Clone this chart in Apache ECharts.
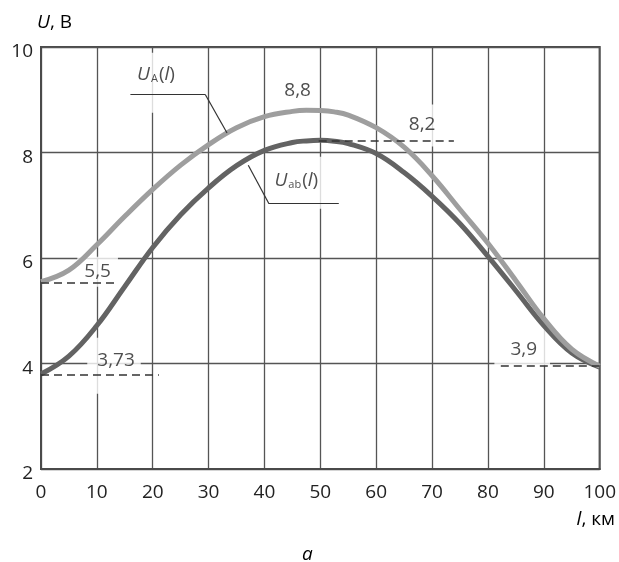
<!DOCTYPE html>
<html><head><meta charset="utf-8">
<script src="https://cdn.jsdelivr.net/npm/echarts@6/dist/echarts.min.js"></script>
<style>html,body{margin:0;padding:0;background:#fff}#c{width:619px;height:562px}</style>
</head><body><div id="c"></div>
<script>
// ---- data ----
const distanceKm = [0,5,10,15,20,25,30,35,40,45,47.5,50,52.5,55,60,65,70,75,80,85,90,95,100];
const voltageUA  = [5.55,5.77,6.25,6.79,7.30,7.76,8.15,8.47,8.68,8.78,8.80,8.795,8.77,8.71,8.47,8.10,7.56,6.92,6.28,5.57,4.85,4.27,3.95];
const voltageUab = [3.80,4.14,4.72,5.46,6.20,6.82,7.33,7.75,8.04,8.19,8.22,8.23,8.215,8.17,7.98,7.62,7.17,6.65,6.03,5.38,4.72,4.20,3.93];
// reference (dashed) levels: [value, fromKm, toKm]
const refLevels = [[5.54,0,13.5],[3.79,0,21.1],[8.22,49.7,73.9],[3.95,82.3,100]];
const refLabels = ['5,5','3,73','8,2','3,9','8,8'];
const seriesNames = ['U_A(l)','U_ab(l)'];

// ---- annotation layout (positions in data units) ----
const leaderA = [[16.0,9.10],[29.4,9.10],[33.3,8.37]];
const leaderAb = [[53.3,7.03],[40.8,7.03],[37.1,7.76]];
const annBoxes = [
  {text:'{i|U}{s|A}{n|(}{i|l}{n|)}', at:[16.03,9.88], pad:[11,24,27,7]},
  {text:'{i|U}{s|ab}{n|(}{i|l}{n|)}', at:[40.44,7.91], pad:[13,25,17,8]},
  {text:refLabels[0], at:[6.59,6.015], pad:[4,7,4,7]},
  {text:refLabels[1], at:[8.37,4.48], pad:[12,6,22,10]},
  {text:refLabels[2], at:[64.85,8.90], pad:[9,8,11,6]},
  {text:refLabels[3], at:[81.24,4.764], pad:[16,13,5,16]},
  {text:refLabels[4], at:[43.1,9.54], pad:[9,3,2,3]}
];

const FONT = 'Open Sans';
const FS = 19;
const chart = echarts.init(document.getElementById('c'), null, {renderer:'canvas'});
const rich = {
  i:{fontFamily:FONT,fontSize:FS,fontStyle:'italic',color:'#222',lineHeight:22},
  n:{fontFamily:FONT,fontSize:FS,color:'#222',lineHeight:22},
  s:{fontFamily:FONT,fontSize:11,color:'#222',lineHeight:22,padding:[9,1,0,1]}
};
const dash = (v,a,b)=>[{coord:[a,v]},{coord:[b,v]}];
const seg = (p,q)=>[{coord:p},{coord:q}];

chart.setOption({
  animation:false,
  backgroundColor:'#fff',
  grid:{left:41,right:17,top:47,bottom:93,show:true,borderColor:'#4a4a4a',borderWidth:2},
  xAxis:{type:'value',min:0,max:100,interval:10,
    axisLine:{show:true,lineStyle:{color:'#4a4a4a',width:2}},axisTick:{show:false},
    splitLine:{show:true,lineStyle:{color:'#555',width:1.3}},
    axisLabel:{fontFamily:FONT,fontSize:FS,color:'#222',margin:14,lineHeight:20}},
  yAxis:{type:'value',min:2,max:10,interval:2,
    axisLine:{show:true,lineStyle:{color:'#4a4a4a',width:2}},axisTick:{show:false},
    splitLine:{show:true,lineStyle:{color:'#555',width:1.3}},
    axisLabel:{fontFamily:FONT,fontSize:FS,color:'#222',margin:8,verticalAlign:'top',lineHeight:10}},
  graphic:[
    {type:'text',left:37,top:13,style:{text:'{i|U}{n|, В}',rich:rich}},
    {type:'text',right:4,top:510,style:{text:'{i|l}{n|, км}',rich:rich}},
    {type:'text',left:302,top:545,style:{text:'{i|a}',rich:rich}}
  ],
  series:[
    {type:'scatter',z:1,symbolSize:1,itemStyle:{color:'rgba(0,0,0,0)'},silent:true,
      data:annBoxes.map(b=>({value:b.at,label:{show:true,position:[0,0],formatter:b.text,
        rich:rich,fontFamily:FONT,fontSize:FS,color:'#222',lineHeight:22,
        backgroundColor:'#fff',padding:b.pad}}))},
    {type:'line',name:seriesNames[1],z:3,smooth:0.4,showSymbol:false,
      data:distanceKm.map((x,i)=>[x,voltageUab[i]]),
      lineStyle:{color:'#636363',width:5},
      markLine:{silent:true,symbol:['none','none'],label:{show:false},z:4,
        lineStyle:{color:'#333',width:1.6,type:[8,5]},
        data:refLevels.map(r=>dash(r[0],r[1],r[2]))}},
    {type:'line',name:seriesNames[0],z:3,smooth:0.4,showSymbol:false,
      data:distanceKm.map((x,i)=>[x,voltageUA[i]]),
      lineStyle:{color:'#9e9e9e',width:5},
      markLine:{silent:true,symbol:['none','none'],label:{show:false},z:4,
        lineStyle:{color:'#333',width:1.2,type:'solid'},
        data:[seg(leaderA[0],leaderA[1]),seg(leaderA[1],leaderA[2]),
              seg(leaderAb[0],leaderAb[1]),seg(leaderAb[1],leaderAb[2])]}}
  ]
});
</script></body></html>
